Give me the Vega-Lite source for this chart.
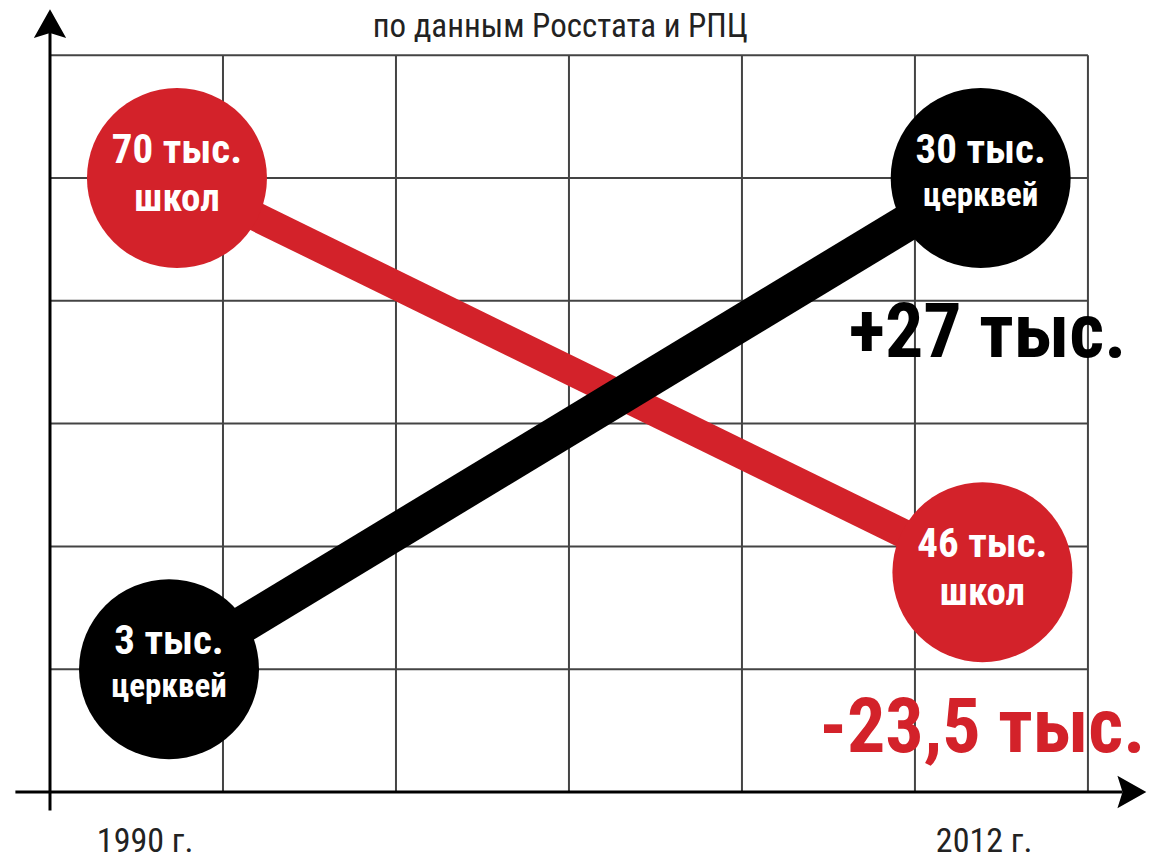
{
  "$schema": "https://vega.github.io/schema/vega-lite/v6.json",
  "width": 1149,
  "height": 861,
  "autosize": "none",
  "padding": 0,
  "background": "white",
  "config": {"view": {"stroke": null}},
  "datasets": {
    "gridlines": [
      {"x": 1, "y": 0, "x2": 1, "y2": 6},
      {"x": 2, "y": 0, "x2": 2, "y2": 6},
      {"x": 3, "y": 0, "x2": 3, "y2": 6},
      {"x": 4, "y": 0, "x2": 4, "y2": 6},
      {"x": 5, "y": 0, "x2": 5, "y2": 6},
      {"x": 6, "y": 0, "x2": 6, "y2": 6},
      {"x": 0, "y": 1, "x2": 6, "y2": 1},
      {"x": 0, "y": 2, "x2": 6, "y2": 2},
      {"x": 0, "y": 3, "x2": 6, "y2": 3},
      {"x": 0, "y": 4, "x2": 6, "y2": 4},
      {"x": 0, "y": 5, "x2": 6, "y2": 5},
      {"x": 0, "y": 6, "x2": 6, "y2": 6}
    ],
    "axes": [
      {"axis": "y", "x": 0, "y": -0.15, "x2": 0, "y2": 6.2},
      {"axis": "x", "x": -0.2, "y": 0, "x2": 6.2, "y2": 0}
    ],
    "arrows": [
      {"dir": "up", "x": 0, "y": 6.258},
      {"dir": "right", "x": 6.254, "y": 0}
    ],
    "points": [
      {"series": "школы", "year": 1990, "value": "70 тыс.", "unit": "школ", "x": 0.734, "y": 5.0},
      {"series": "школы", "year": 2012, "value": "46 тыс.", "unit": "школ", "x": 5.39, "y": 1.79},
      {"series": "церкви", "year": 1990, "value": "3 тыс.", "unit": "церквей", "x": 0.688, "y": 1.0},
      {"series": "церкви", "year": 2012, "value": "30 тыс.", "unit": "церквей", "x": 5.38, "y": 5.0}
    ],
    "changes": [
      {"series": "церкви", "text": "+27 тыс.", "x": 5.42, "y": 3.54},
      {"series": "школы", "text": "-23,5 тыс.", "x": 5.39, "y": 0.326}
    ],
    "years": [
      {"text": "1990 г.", "x": 0.55, "y": -0.489},
      {"text": "2012 г.", "x": 5.40, "y": -0.489}
    ],
    "title": [
      {"text": "по данным Росстата и РПЦ", "x": 2.95, "y": 6.148}
    ]
  },
  "encoding": {
    "x": {"field": "x", "type": "quantitative", "scale": {"domain": [-0.289, 6.353], "nice": false, "zero": false}, "axis": null},
    "y": {"field": "y", "type": "quantitative", "scale": {"domain": [-0.562, 6.45], "nice": false, "zero": false}, "axis": null}
  },
  "layer": [
    {
      "data": {"name": "gridlines"},
      "mark": {"type": "rule", "color": "#444444", "strokeWidth": 2},
      "encoding": {
        "x2": {"field": "x2"},
        "y2": {"field": "y2"}
      }
    },
    {
      "data": {"name": "axes"},
      "mark": {"type": "rule", "color": "#000000", "strokeWidth": 3},
      "encoding": {
        "x2": {"field": "x2"},
        "y2": {"field": "y2"}
      }
    },
    {
      "data": {"name": "arrows"},
      "mark": {"type": "point", "filled": true, "opacity": 1, "size": 1156, "color": "#000000"},
      "encoding": {
        "shape": {
          "field": "dir",
          "type": "nominal",
          "scale": {"domain": ["up", "right"], "range": ["M0,-0.85L0.95,0.85L0,0.55L-0.95,0.85Z", "M0.85,0L-0.85,0.95L-0.55,0L-0.85,-0.95Z"]},
          "legend": null
        }
      }
    },
    {
      "data": {"name": "points"},
      "transform": [{"filter": "datum.series === 'школы'"}],
      "mark": {"type": "line", "color": "#d3222a", "strokeWidth": 29, "strokeCap": "butt"},
      "encoding": {"order": {"field": "year"}}
    },
    {
      "data": {"name": "points"},
      "transform": [{"filter": "datum.series === 'школы'"}],
      "mark": {"type": "point", "shape": "circle", "filled": true, "opacity": 1, "size": 32400, "color": "#d3222a"}
    },
    {
      "data": {"name": "points"},
      "transform": [{"filter": "datum.series === 'церкви'"}],
      "mark": {"type": "line", "color": "#000000", "strokeWidth": 37, "strokeCap": "butt"},
      "encoding": {"order": {"field": "year"}}
    },
    {
      "data": {"name": "points"},
      "transform": [{"filter": "datum.series === 'церкви'"}],
      "mark": {"type": "point", "shape": "circle", "filled": true, "opacity": 1, "size": 32400, "color": "#000000"}
    },
    {
      "data": {"name": "points"},
      "mark": {"type": "text", "font": "Roboto Condensed, Liberation Sans Narrow, Roboto, sans-serif", "fontWeight": "bold", "fontSize": 41, "color": "white", "align": "center", "baseline": "alphabetic", "dy": -15},
      "encoding": {"text": {"field": "value"}}
    },
    {
      "data": {"name": "points"},
      "transform": [{"filter": "datum.series === 'школы'"}],
      "mark": {"type": "text", "font": "Roboto Condensed, Liberation Sans Narrow, Roboto, sans-serif", "fontWeight": "bold", "fontSize": 39, "color": "white", "align": "center", "baseline": "alphabetic", "dy": 33},
      "encoding": {"text": {"field": "unit"}}
    },
    {
      "data": {"name": "points"},
      "transform": [{"filter": "datum.series === 'церкви'"}],
      "mark": {"type": "text", "font": "Roboto Condensed, Liberation Sans Narrow, Roboto, sans-serif", "fontWeight": "bold", "fontSize": 33, "color": "white", "align": "center", "baseline": "alphabetic", "dy": 28},
      "encoding": {"text": {"field": "unit"}}
    },
    {
      "data": {"name": "changes"},
      "mark": {"type": "text", "font": "Roboto Condensed, Liberation Sans Narrow, Roboto, sans-serif", "fontWeight": "bold", "fontSize": 76, "align": "center", "baseline": "alphabetic"},
      "encoding": {
        "text": {"field": "text"},
        "color": {"field": "series", "type": "nominal", "scale": {"domain": ["школы", "церкви"], "range": ["#d3222a", "#000000"]}, "legend": null}
      }
    },
    {
      "data": {"name": "years"},
      "mark": {"type": "text", "font": "Roboto Condensed, Liberation Sans Narrow, Roboto, sans-serif", "fontSize": 34, "color": "#222222", "align": "center", "baseline": "alphabetic"},
      "encoding": {"text": {"field": "text"}}
    },
    {
      "data": {"name": "title"},
      "mark": {"type": "text", "font": "Roboto Condensed, Liberation Sans Narrow, Roboto, sans-serif", "fontSize": 33, "color": "#222222", "align": "center", "baseline": "alphabetic"},
      "encoding": {"text": {"field": "text"}}
    }
  ]
}
